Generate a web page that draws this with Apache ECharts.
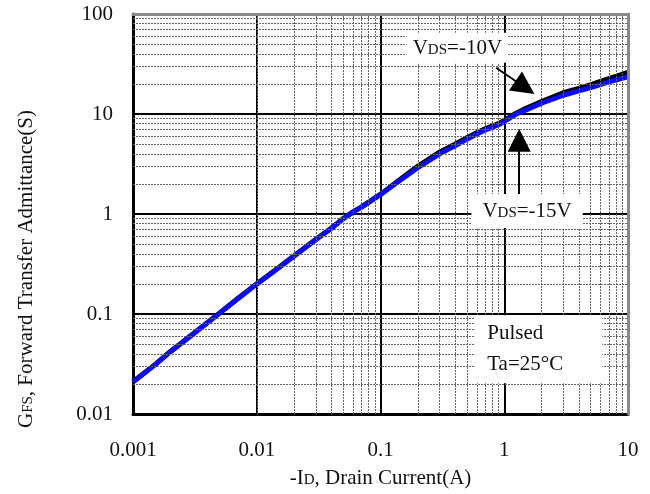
<!DOCTYPE html>
<html>
<head>
<meta charset="utf-8">
<script src="https://cdn.jsdelivr.net/npm/echarts@6/dist/echarts.min.js"></script>
<style>html,body{margin:0;padding:0;background:#fff}#c{width:650px;height:494px}</style>
</head>
<body>
<div id="c"></div>
<script>
// ---- data ----
var drainCurrent = [0.001,0.0015,0.002,0.003,0.005,0.007,0.01,0.015,0.02,0.03,0.04,0.05,0.06,0.07,0.1,0.15,0.2,0.3,0.4,0.5,0.6,0.7,0.9,1,1.25,1.5,2,3,4,5,7,10];
var gfsVds15 = [0.021,0.031,0.042,0.062,0.102,0.142,0.20,0.29,0.38,0.555,0.72,0.9,1.05,1.17,1.57,2.25,2.9,4.0,4.8,5.6,6.3,6.9,7.8,8.45,10,11,12.8,15.4,17,18.4,21,23.6];
var gfsVds10 = [0.021,0.031,0.042,0.062,0.102,0.142,0.20,0.29,0.38,0.555,0.72,0.9,1.05,1.17,1.57,2.3,3.0,4.15,5.0,5.8,6.5,7.1,8.0,8.65,10.2,11.4,13.3,16.3,18,19.7,22.6,26];
var xTickLabels = ['0.001','0.01','0.1','1','10'];
var yTickLabels = ['0.01','0.1','1','10','100'];
var xDecades = [0.001,0.01,0.1,1];
var yDecades = [0.01,0.1,1,10];
var minorSteps = [2,3,4,5,6,7,8,9];

function pairs(xs, ys){ return xs.map(function(x,i){ return [x, ys[i]]; }); }
function fmtTick(labels){
  return function(v){
    var e = Math.round(Math.log10(v));
    var s = v < 1 ? v.toFixed(-e) : String(Math.round(v));
    return labels.indexOf(s) >= 0 ? s : '';
  };
}

var minorLines = [];
xDecades.forEach(function(d){ minorSteps.forEach(function(k){ minorLines.push({xAxis: +(k*d).toPrecision(3)}); }); });
yDecades.forEach(function(d){ minorSteps.forEach(function(k){ minorLines.push({yAxis: +(k*d).toPrecision(3)}); }); });

var serif = '"Liberation Serif","DejaVu Serif",serif';
var rich = {
  n: {fontFamily: serif, fontSize: 21, color: '#111'},
  s: {fontFamily: serif, fontSize: 15, color: '#111', verticalAlign: 'bottom', padding: [0,0,1,0]}
};
var frameAxis = {
  type: 'log', logBase: 10,
  axisLine: {show: true, lineStyle: {color: '#8a8a8a', width: 3}},
  axisTick: {show: false}, axisLabel: {show: false}, splitLine: {show: false}, z: 8
};

var chart = echarts.init(document.getElementById('c'), null, {renderer: 'canvas'});
chart.setOption({
  animation: false,
  backgroundColor: '#fff',
  grid: {left: 133, right: 22, top: 14, bottom: 78},
  xAxis: [{
    type: 'log', logBase: 10, min: 0.001, max: 10,
    name: '{n|-I}{s|D}{n|, Drain Current(A)}',
    nameLocation: 'middle', nameGap: 54,
    nameTextStyle: {rich: rich},
    axisLine: {show: true, lineStyle: {color: '#000', width: 3}},
    axisTick: {show: false},
    axisLabel: {formatter: fmtTick(xTickLabels), fontFamily: serif, fontSize: 21, color: '#111', margin: 26},
    splitLine: {show: true, lineStyle: {color: '#000', width: 2}},
    minorTick: {show: false}, minorSplitLine: {show: false}, z: 4
  }, Object.assign({position: 'top', min: 0.001, max: 10}, frameAxis)],
  yAxis: [{
    type: 'log', logBase: 10, min: 0.01, max: 100,
    name: '{n|G}{s|FS}{n|, Forward Transfer Admittance(S)}',
    nameLocation: 'middle', nameGap: 96,
    nameTextStyle: {rich: rich, padding: [0, 110, 0, 0]},
    axisLine: {show: true, lineStyle: {color: '#000', width: 3}},
    axisTick: {show: false},
    axisLabel: {formatter: fmtTick(yTickLabels), fontFamily: serif, fontSize: 21, color: '#111', margin: 20},
    splitLine: {show: true, lineStyle: {color: '#000', width: 2}},
    minorTick: {show: false}, minorSplitLine: {show: false}, z: 4
  }, Object.assign({position: 'right', min: 0.01, max: 100}, frameAxis)],
  series: [
    {
      name: 'minorGrid', type: 'line', data: [], z: 1, silent: true,
      markLine: {silent: true, symbol: ['none','none'], label: {show: false},
        lineStyle: {color: '#666', width: 1, type: [2,1]}, data: minorLines}
    },
    {
      name: 'VDS=-10V', type: 'line', data: pairs(drainCurrent, gfsVds10), z: 3,
      showSymbol: false, smooth: false,
      lineStyle: {color: '#000', width: 5}
    },
    {
      name: 'VDS=-15V', type: 'line', data: pairs(drainCurrent, gfsVds15), z: 4,
      showSymbol: false, smooth: false,
      lineStyle: {color: '#0a0aff', width: 5}
    },
    {
      name: 'notes', type: 'line', data: [], z: 6, silent: true,
      markLine: {silent: true, symbol: ['none','triangle'], symbolSize: 23,
        label: {show: false}, lineStyle: {color: '#000', width: 2, type: 'solid'},
        itemStyle: {color: '#000'},
        data: [
          [{coord: [0.86, 29]}, {coord: [1.47, 18.4]}],
          [{coord: [1.32, 1.58]}, {coord: [1.32, 5.45]}]
        ]},
      markPoint: {silent: true, symbol: 'rect', symbolSize: 1,
        itemStyle: {color: 'rgba(0,0,0,0)'},
        data: [
          {coord: [0.418, 45.9], label: {show: true, position: 'inside', formatter: '{n|V}{s|DS}{n|=-10V}', rich: rich, backgroundColor: '#fff', padding: [5, 6, 4, 6]}},
          {coord: [1.53, 1.07], label: {show: true, position: 'inside', formatter: '{n|V}{s|DS}{n|=-15V}', rich: rich, backgroundColor: '#fff', padding: [7, 11, 6, 11]}},
          {coord: [1.88, 0.0443], label: {show: true, position: 'inside', formatter: '{n|Pulsed}\n{n|Ta=25°C}', rich: {n: {fontFamily: serif, fontSize: 21, color: '#111', lineHeight: 31, align: 'left'}}, backgroundColor: '#fff', padding: [3, 39, 3, 13]}}
        ]}
    }
  ]
});
</script>
</body>
</html>
